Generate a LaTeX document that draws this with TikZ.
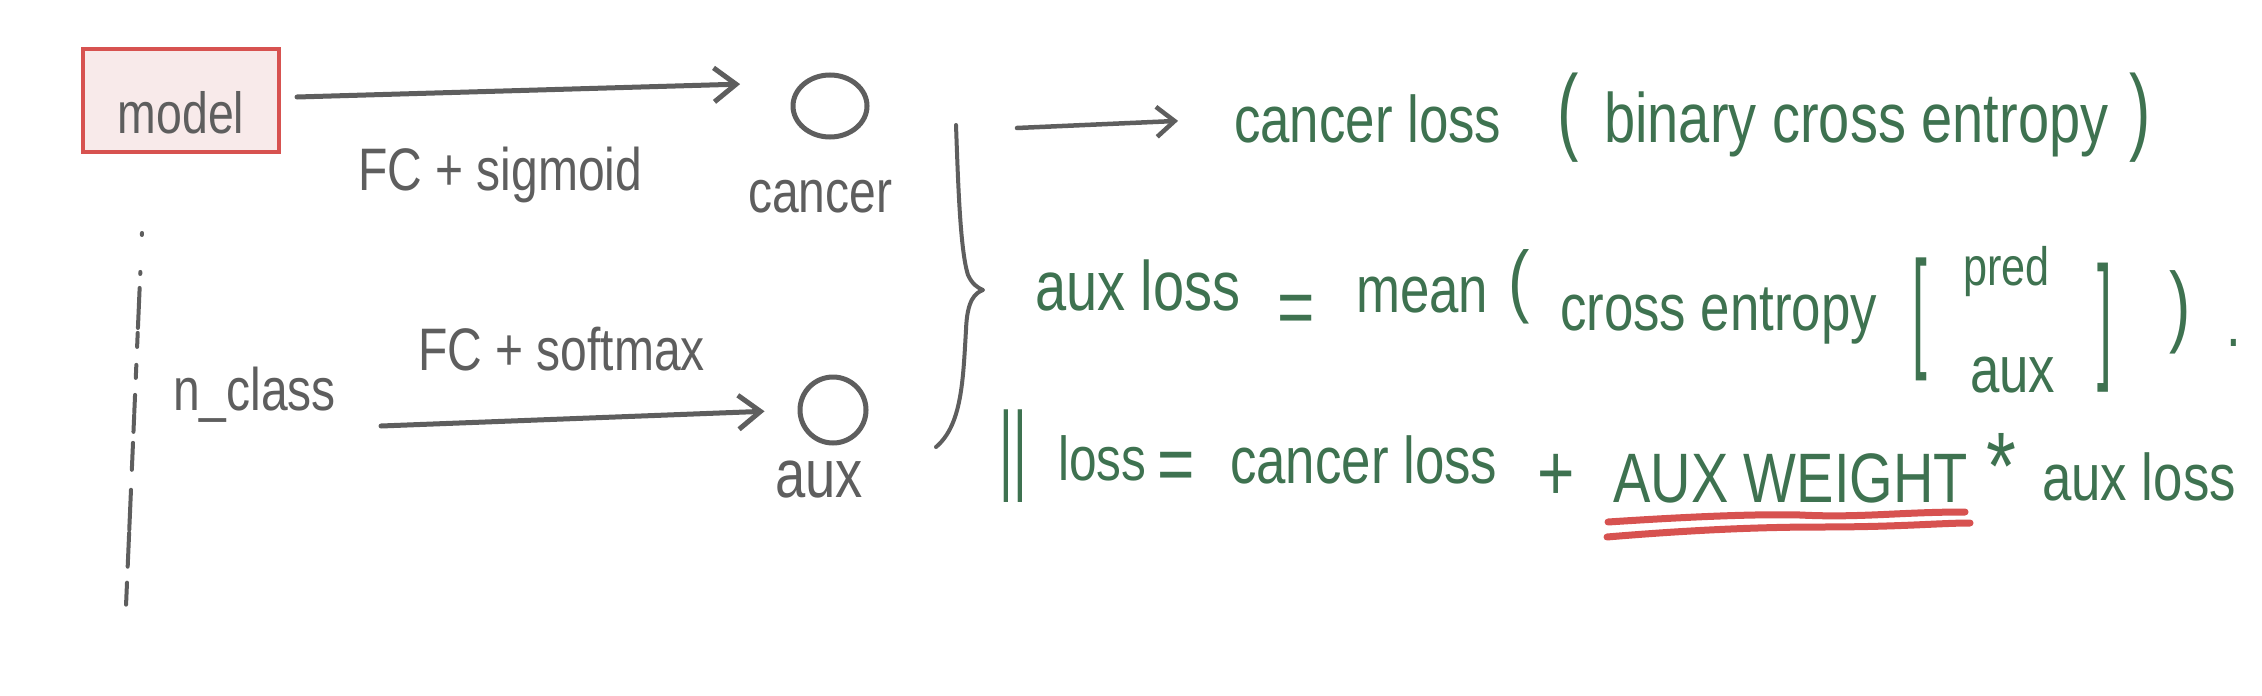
\documentclass[tikz,border=0pt]{standalone}
\usepackage{fontspec}
\setmainfont{Liberation Sans}[FakeStretch=0.8]
\usepackage{graphicx}
\usetikzlibrary{arrows.meta,shapes.geometric}
\definecolor{inkgray}{RGB}{94,94,94}
\definecolor{inkgreen}{RGB}{62,114,80}
\definecolor{inkred}{RGB}{215,82,80}
\definecolor{boxfill}{RGB}{248,234,234}
\newcommand{\tallch}[2]{\scalebox{1}[#1]{#2}}
\begin{document}
\begin{tikzpicture}[x=1pt,y=-1pt,
  graytxt/.style={inner sep=0pt, anchor=base west, text=inkgray, font=\fontsize{60}{64}\selectfont},
  greentxt/.style={inner sep=0pt, anchor=base west, text=inkgreen, font=\fontsize{66}{70}\selectfont},
  delim/.style={inner sep=0pt, anchor=center, text=inkgreen, font=\fontsize{66}{70}\selectfont},
  bigdelim/.style={delim, font=\fontsize{80}{84}\selectfont},
  stroke/.style={draw=inkgray, line width=5pt, line cap=round, line join=round},
  arrowline/.style={stroke, -{Straight Barb[length=22pt,width=34pt]}},
  outcircle/.style={ellipse, draw=inkgray, line width=5pt, inner sep=0pt, minimum width=74pt, minimum height=62pt},
  redline/.style={draw=inkred, line width=7pt, line cap=round}]
\fill[white] (0,0) rectangle (2262,696);
\useasboundingbox (0,0) rectangle (2262,696);

% left part
\node[draw=inkred, fill=boxfill, line width=4pt, minimum width=196pt, minimum height=103pt,
      inner sep=0pt, text height=65pt, text depth=0pt, text=inkgray,
      font=\fontsize{58}{62}\selectfont] (model) at (181,100.5) {model};
\node[graytxt] (fcsig) at (358,190) {FC + sigmoid};
\node[outcircle] (cancerc) at (830,106) {};
\node[graytxt] (cancerlbl) at (748,212) {cancer};
\node[graytxt] (nclass) at (173,410) {n\_class};
\node[graytxt] (fcsoft) at (418,370) {FC + softmax};
\node[outcircle, minimum width=66pt, minimum height=66pt] (auxc) at (833,410) {};
\node[graytxt, font=\fontsize{68}{72}\selectfont] (auxlbl) at (775,497) {aux};

\coordinate (a1s) at (297,97);
\draw[arrowline, shorten >=62pt] (a1s) -- (cancerc.north west);
\coordinate (a2s) at (381,426);
\draw[arrowline, shorten >=33pt] (a2s) -- (auxc.west);

\coordinate (d1) at (142,233);
\coordinate (d2) at (126,606);
\draw[stroke, line width=4pt, dash pattern=on 2pt off 37pt on 2pt off 14pt on 40pt off 5pt on 14pt off 18pt on 13pt off 17pt on 18pt off 2pt on 17pt off 11pt on 27pt off 20pt on 40pt off 3pt on 34pt off 16pt on 22pt off 100pt] (d1) -- (d2);

% brace
\draw[stroke, line width=4pt] (956,125) .. controls (958,180) and (960,250) .. (968,275)
  .. controls (972,284) and (978,288) .. (983,290)
  .. controls (975,293) and (967,300) .. (966,330)
  .. controls (963,380) and (962,425) .. (936,447);

% right part
\coordinate (a3s) at (1017,128);
\node[greentxt] (cl1) at (1234,142) {cancer loss};
\draw[stroke, line width=4.5pt, -{Straight Barb[length=18pt,width=30pt]}, shorten >=56pt] (a3s) -- (cl1.west);
\node[bigdelim] (lp1) at (1568,118) {\tallch{1.2}{(}};
\node[greentxt, font=\fontsize{70}{74}\selectfont] (bce) at (1604,142) {binary cross entropy};
\node[bigdelim] (rp1) at (2140,118) {\tallch{1.2}{)}};

\node[greentxt, font=\fontsize{70}{74}\selectfont] (auxloss) at (1035,310) {aux loss};
\node[bigdelim] (eq1) at (1296,315) {=};
\node[greentxt] (mean) at (1356,312) {mean};
\node[bigdelim] (lp2) at (1519,287) {\tallch{1.0}{(}};
\node[greentxt] (ce) at (1560,330) {cross entropy};
\node[delim] (lb) at (1920,319) {\tallch{2.0}{[}};
\node[greentxt, font=\fontsize{54}{58}\selectfont] (pred) at (1963,285) {pred};
\node[greentxt] (auxin) at (1970,392) {aux};
\node[delim] (rb) at (2105,328) {\tallch{2.1}{]}};
\node[bigdelim] (rp2) at (2180,312) {\tallch{1.12}{)}};
\node[greentxt] (dot) at (2226,346) {.};

\node[delim] (bars) at (1013,456) {\tallch{1.5}{||}};
\node[greentxt, font=\fontsize{62}{66}\selectfont] (loss) at (1058,480) {loss};
\node[bigdelim] (eq2) at (1176,472) {=};
\node[greentxt] (cl2) at (1230,483) {cancer loss};
\node[bigdelim] (plus) at (1556,477) {+};
\node[greentxt, font=\fontsize{70}{74}\selectfont] (auxw) at (1613,502) {AUX WEIGHT};
\node[delim, font=\fontsize{96}{100}\selectfont] (star) at (2001,466) {*};
\node[greentxt] (auxl2) at (2042,500) {aux loss};

\draw[redline] (1608,522) .. controls (1700,516) and (1760,514) .. (1800,515)
  .. controls (1860,518) and (1900,512) .. (1965,512);
\draw[redline] (1607,537) .. controls (1690,530) and (1760,527) .. (1820,527)
  .. controls (1900,527) and (1940,523) .. (1970,523);
\end{tikzpicture}
\end{document}
